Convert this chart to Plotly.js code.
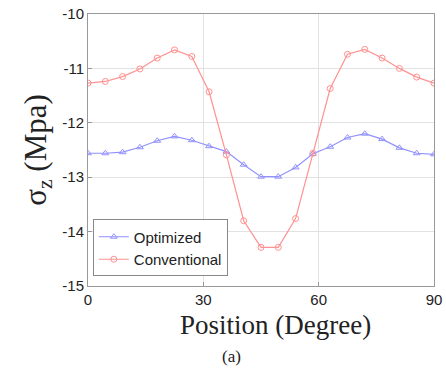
<!DOCTYPE html>
<html><head><meta charset="utf-8">
<script src="https://cdn.plot.ly/plotly-3.0.1.min.js"></script>
<style>html,body{margin:0;padding:0;background:#fff;}#chart{width:446px;height:376px;}</style>
</head><body><div id="chart"></div>
<script>
const positions = [0,4.5,9,13.5,18,22.5,27,31.5,36,40.5,45,49.5,54,58.5,63,67.5,72,76.5,81,85.5,90];
const optimized = [-12.56,-12.56,-12.54,-12.45,-12.33,-12.25,-12.32,-12.43,-12.53,-12.77,-12.99,-12.99,-12.82,-12.57,-12.44,-12.27,-12.20,-12.30,-12.46,-12.56,-12.58];
const conventional = [-11.27,-11.24,-11.15,-11.01,-10.81,-10.66,-10.78,-11.43,-12.59,-13.80,-14.29,-14.29,-13.76,-12.56,-11.37,-10.74,-10.65,-10.81,-11.00,-11.16,-11.27];
const xTicks = [0,30,60,90];
const yTicks = [-15,-14,-13,-12,-11,-10];

const traces = [
  {x: positions, y: optimized, name: 'Optimized', mode: 'lines+markers',
   line: {color: 'rgb(145,145,255)', width: 1.2},
   marker: {symbol: 'triangle-up-open', size: 6, color: 'rgb(145,145,255)', line: {width: 1}}},
  {x: positions, y: conventional, name: 'Conventional', mode: 'lines+markers',
   line: {color: 'rgb(255,145,145)', width: 1.2},
   marker: {symbol: 'circle-open', size: 6, color: 'rgb(255,145,145)', line: {width: 1}}}
];

const serif = 'Liberation Serif, Times New Roman, serif';
const sans = 'Liberation Sans, Arial, sans-serif';

const axisCommon = {
  showline: true, mirror: true, linecolor: '#999', linewidth: 1,
  showgrid: true, gridcolor: '#e2e2e2', gridwidth: 1, zeroline: false,
  ticks: 'inside', ticklen: 4, tickcolor: '#999',
  tickfont: {family: sans, size: 15, color: '#222'}
};

const layout = {
  width: 446, height: 376,
  margin: {l: 88, r: 12, t: 14, b: 90},
  paper_bgcolor: '#fff', plot_bgcolor: '#fff',
  showlegend: true,
  legend: {x: 0.014, y: 0.035, xanchor: 'left', yanchor: 'bottom',
    bgcolor: '#fff', bordercolor: '#888', borderwidth: 1,
    font: {family: sans, size: 15, color: '#222'},
    tracegroupgap: 0, itemwidth: 30},
  xaxis: Object.assign({}, axisCommon, {range: [0, 90], tickvals: xTicks, ticktext: xTicks.map(String)}),
  yaxis: Object.assign({}, axisCommon, {range: [-15, -10], tickvals: yTicks, ticktext: yTicks.map(String),
    title: {text: 'σ<sub>z</sub> (Mpa)', standoff: 6,
      font: {family: serif, size: 31, color: '#222'}}}),
  annotations: [
    {text: 'Position (Degree)', xref: 'paper', yref: 'paper', x: 0.04, y: -0.145,
     xanchor: 'center', yanchor: 'middle', showarrow: false, xshift: 0,
     font: {family: serif, size: 27, color: '#222'}},
    {text: '(a)', xref: 'paper', yref: 'paper', x: 0.416, y: -0.26,
     xanchor: 'center', yanchor: 'middle', showarrow: false,
     font: {family: serif, size: 17, color: '#222'}}]
};
// x-title centre at pixel 275 → paper x
layout.annotations[0].x = (275 - 88) / (446 - 88 - 12);

Plotly.newPlot('chart', traces, layout, {displayModeBar: false, staticPlot: true});
</script></body></html>
